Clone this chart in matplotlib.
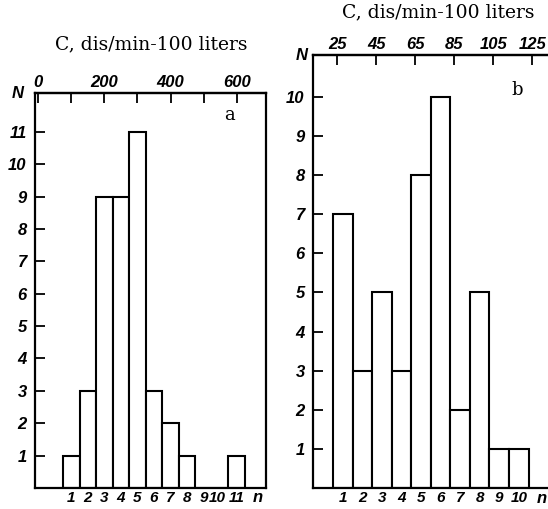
import numpy as np
import matplotlib
matplotlib.use('Agg')
import matplotlib.pyplot as plt
import matplotlib.transforms as mtransforms

# plot setup
plt.rc('font', **{'family': 'sans-serif', 'sans-serif': ['DejaVu Sans']})
plt.rcParams['axes.linewidth'] = 1.6

# data: panel a (C bins of 50, centred at 100..600)
n_a = [1, 2, 3, 4, 5, 6, 7, 8, 9, 10, 11]
N_a = [1, 3, 9, 9, 11, 3, 2, 1, 0, 0, 1]
ctick_a = [0, 100, 200, 300, 400, 500, 600]
clab_a = ['0', '', '200', '', '400', '', '600']

# data: panel b
n_b = [1, 2, 3, 4, 5, 6, 7, 8, 9, 10]
N_b = [7, 3, 5, 3, 8, 10, 2, 5, 1, 1]
ctick_b = [25, 45, 65, 85, 105, 125]

title = 'C, dis/min-100 liters'
tick_font = dict(family=['Liberation Sans', 'DejaVu Sans'],
                 style='italic', weight='bold', size=12)

fig = plt.figure(figsize=(5.48, 5.09), dpi=100)
ax_a = fig.add_axes([0.0639, 0.0413, 0.4215, 0.776])
ax_b = fig.add_axes([0.5712, 0.0413, 0.4325, 0.8507])


def style(ax, n, N, xlim, ylim, yt, c_of_n, n_of_c, cticks, clabels, letter, lpos,
          nsize):
    ax.bar(n, N, width=1.0, facecolor='white', edgecolor='black', linewidth=1.5)
    ax.set_xlim(*xlim)
    ax.set_ylim(*ylim)
    ax.set_xticks(n)
    ax.set_xticklabels([str(v) for v in n], **dict(tick_font, size=nsize))
    ax.tick_params(axis='x', length=0, pad=2)
    ax.set_yticks(yt)
    ax.set_yticklabels([str(v) for v in yt], **tick_font)
    ax.tick_params(axis='y', direction='in', length=7, width=1.3, pad=6)
    top = ax.secondary_xaxis('top', functions=(c_of_n, n_of_c))
    top.set_xticks(cticks)
    top.set_xticklabels(clabels, **tick_font)
    top.tick_params(direction='in', length=7, width=1.3, pad=2)
    top.spines['top'].set_linewidth(1.6)
    ax.text(lpos[0], lpos[1], letter, transform=ax.transAxes, fontsize=13,
            family='DejaVu Serif', ha='center', va='center')
    ax.text(0.965, -0.024, 'n', transform=ax.transAxes, ha='center', va='center',
            **tick_font)


style(ax_a, n_a, N_a, (-1.19, 12.77), (0, 12.2), list(range(1, 12)),
      lambda x: 50 * x + 50, lambda c: (c - 50) / 50.0,
      ctick_a, clab_a, 'a', (0.84, 0.945), 11)
style(ax_b, n_b, N_b, (-0.53, 11.6), (0, 11.07), list(range(1, 11)),
      lambda x: 10 * x + 18, lambda c: (c - 18) / 10.0,
      ctick_b, [str(c) for c in ctick_b], 'b', (0.86, 0.92), 11)

# nudge "10" on panel a slightly left, as in the original
shift = mtransforms.ScaledTranslation(-3 / 100, 0, fig.dpi_scale_trans)
lab10 = ax_a.get_xticklabels()[9]
lab10.set_transform(lab10.get_transform() + shift)

fig.text(151 / 548, 1 - 44 / 509, title, family='DejaVu Serif', fontsize=13.5,
         ha='center', va='center')
fig.text(438 / 548, 1 - 12 / 509, title, family='DejaVu Serif', fontsize=13.5,
         ha='center', va='center')
fig.text(18 / 548, 1 - 93 / 509, 'N', ha='center', va='center', **tick_font)
fig.text(302 / 548, 1 - 55 / 509, 'N', ha='center', va='center', **tick_font)

plt.savefig('out.png', dpi=100)
